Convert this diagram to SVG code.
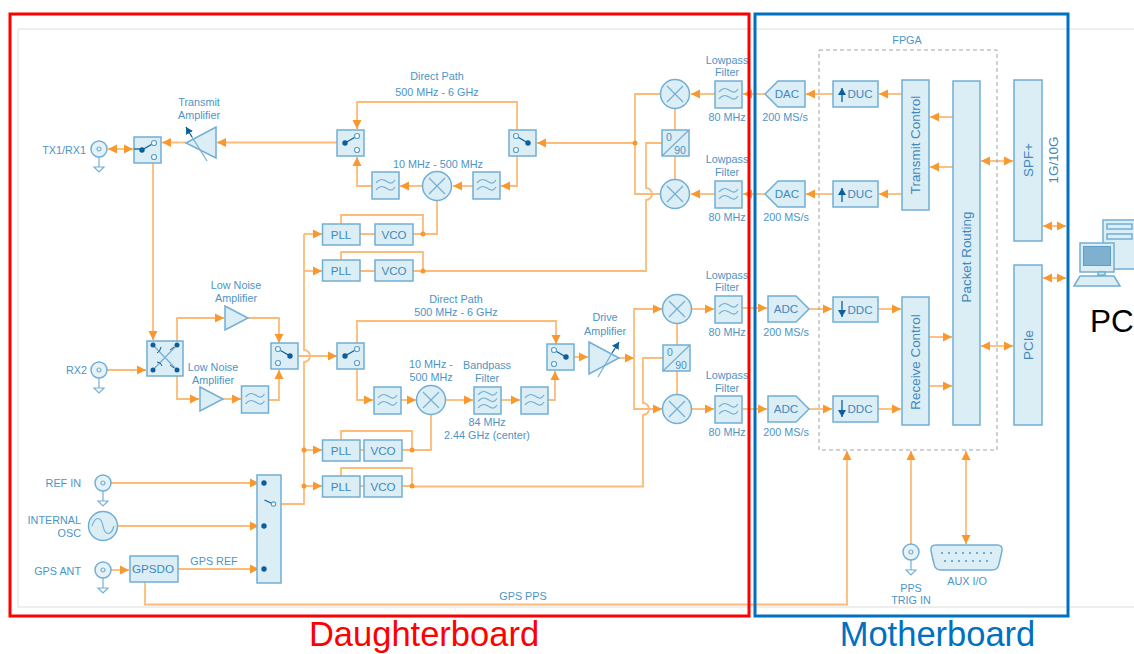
<svg xmlns="http://www.w3.org/2000/svg" width="1134" height="654" viewBox="0 0 1134 654">
<style>
text{font-family:"Liberation Sans",Arial,sans-serif}
.t{font-size:10.8px;fill:#4c94c6;text-anchor:middle}
.r{font-size:10.8px;fill:#4c94c6;text-anchor:end}
.b{font-size:11.6px;fill:#4088bd;text-anchor:middle}
.v{font-size:13.4px;fill:#4088bd;text-anchor:middle}
.box{fill:#dbedf5;stroke:#72afd4;stroke-width:1.5}
.ln{fill:none;stroke:#74afd3;stroke-width:1.2}
.c{fill:none;stroke:#fcbb77;stroke-width:1.8}
.a{marker-end:url(#ah)}
.d{marker-end:url(#ah);marker-start:url(#as)}
.dot{fill:#f9982e}
.dk{fill:#0b5f9f}
.op{fill:#fff;stroke:#5b9fca;stroke-width:1.2}
.bl{fill:none;stroke:#0b5f9f;stroke-width:1.3}
</style>
<defs>
<marker id="ah" markerUnits="userSpaceOnUse" markerWidth="10" markerHeight="10" refX="9" refY="5" orient="auto"><path d="M0,.5L9,5L0,9.5Z" fill="#f9982e"/></marker>
<marker id="as" markerUnits="userSpaceOnUse" markerWidth="10" markerHeight="10" refX="9" refY="5" orient="auto-start-reverse"><path d="M0,.5L9,5L0,9.5Z" fill="#f9982e"/></marker>
<marker id="bh" markerUnits="userSpaceOnUse" markerWidth="8" markerHeight="8" refX="7" refY="4" orient="auto"><path d="M0,0L7,4L0,8Z" fill="#0b5f9f"/></marker>
<g id="flt"><rect class="box" width="27" height="27"/><path class="ln" d="M4,11C8,6 11,7 14,9S20,13 23,8M4,18C8,13 11,14 14,16S20,20 23,15"/></g>
<g id="bpf"><rect class="box" width="27" height="27"/><path class="ln" d="M4,8C8,3 11,4 14,6S20,10 23,5M4,14.500C8,9.500 11,10.500 14,12.500S20,16.500 23,11.500M4,21C8,16 11,17 14,19S20,23 23,18"/></g>
<g id="mix"><circle class="box" r="14.500"/><path class="ln" d="M-8,-8L8,8M-8,8L8,-8"/></g>
<g id="coax"><path class="ln" d="M0,8V18M-5,18H5L0,23Z"/><circle class="box" style="fill:#e6f2f8" r="8"/><circle class="ln" r="2"/></g>
<g id="sw"><rect class="box" width="27" height="26"/><path class="bl" d="M8,13L20,6"/><circle class="dk" cx="8" cy="13" r="2.700"/><circle class="op" cx="20" cy="6" r="2.500"/><circle class="op" cx="20" cy="20" r="2.500"/></g>
<g id="q"><rect class="box" width="27" height="26"/><path class="ln" d="M0,26L27,0"/><text class="t" x="7" y="11" style="font-size:10.5px">0</text><text class="t" x="18" y="24" style="font-size:10.5px">90</text></g>
</defs>

<g id="background-lines" fill="none" stroke="#dedede" stroke-width="1"><path d="M18,29H1134M18,29V607H1134"/></g>

<g id="connectors">
<path class="c d" d="M108,149H133"/>
<path class="c a" d="M153,163V340"/>
<path class="c a" d="M186,142.500H162"/>
<path class="c a" d="M337,142.500H217"/>
<path class="c a" d="M517,130V102H357V129"/>
<path class="c a" d="M635,143H537"/>
<path class="c a" d="M517,156V186H501"/>
<path class="c a" d="M473,186H453"/>
<path class="c a" d="M422,186H400"/>
<path class="c a" d="M372,186H357V157"/>
<path class="c" d="M437,201V234H423M360,234H375M413,234H423M341,224V215H423V234"/>
<path class="c" d="M360,271H375M413,271H423M341,260V252H423V271"/>
<path class="c" d="M423,271H646V200A6,6 0 0 0 646,188V143H662"/>
<path class="c" d="M661,94H635V194H661"/>
<path class="c" d="M675,109V130M675,156V180M677,324V345M677,371V395"/>
<path class="c a" d="M715,94H691"/>
<path class="c a" d="M715,194H691"/>
<path class="c a" d="M765,94H743"/>
<path class="c a" d="M765,194H743"/>
<path class="c a" d="M833,94H806"/>
<path class="c a" d="M833,194H806"/>
<path class="c a" d="M902,94H879"/>
<path class="c a" d="M902,194H879"/>
<path class="c a" d="M953,117H930"/>
<path class="c a" d="M953,167H930"/>
<path class="c d" d="M981,161H1013"/>
<path class="c d" d="M981,346H1013"/>
<path class="c d" d="M1043,226H1066"/>
<path class="c d" d="M1043,278H1066"/>
<path class="c a" d="M692,309H714"/>
<path class="c a" d="M692,409H714"/>
<path class="c a" d="M742,308H767"/>
<path class="c a" d="M742,409H767"/>
<path class="c a" d="M809,309H832"/>
<path class="c a" d="M809,409H832"/>
<path class="c a" d="M878,309H901"/>
<path class="c a" d="M878,409H901"/>
<path class="c a" d="M929,337H952"/>
<path class="c a" d="M929,386H952"/>
<path class="c a" d="M107,370H146"/>
<path class="c a" d="M177,341V318H224"/>
<path class="c a" d="M177,376V399H199"/>
<path class="c a" d="M248,318H279V343"/>
<path class="c a" d="M223,399H241"/>
<path class="c a" d="M269,400H279V370"/>
<path class="c a" d="M298,356H337"/>
<path class="c a" d="M357,343V321H556V344"/>
<path class="c a" d="M357,369V400H373"/>
<path class="c a" d="M401,400H416"/>
<path class="c a" d="M446,400H473"/>
<path class="c a" d="M501,400H520"/>
<path class="c a" d="M548,400H555V371"/>
<path class="c a" d="M574,357H588"/>
<path class="c a" d="M619,358H634"/>
<path class="c a" d="M634,358V309H662"/>
<path class="c a" d="M634,358V409H662"/>
<path class="c" d="M431,415V450H412M360,450H364M402,450H412M341,440V431H412V450"/>
<path class="c" d="M360,486H364M402,486H412M341,476V468H412V486"/>
<path class="c" d="M412,486.500H643V415A6,6 0 0 0 643,403V358H663"/>
<path class="c" d="M276,504H304V362A6,6 0 0 0 304,350V234"/>
<path class="c a" d="M304,234H322"/>
<path class="c a" d="M304,271H322"/>
<path class="c a" d="M304,450H322"/>
<path class="c a" d="M304,486H322"/>
<path class="c a" d="M111,483H259"/>
<path class="c a" d="M118,526H259"/>
<path class="c a" d="M111,570H129"/>
<path class="c a" d="M178,569H259"/>
<path class="c a" d="M145,582V604.500H847V451"/>
<path class="c a" d="M911,544V451"/>
<path class="c d" d="M966,451V544"/>
<g class="dot"><circle cx="635" cy="143" r="2.500"/><circle cx="423" cy="234" r="2.500"/><circle cx="423" cy="271" r="2.500"/><circle cx="412" cy="450" r="2.500"/><circle cx="412" cy="486" r="2.500"/><circle cx="304" cy="450" r="2.500"/><circle cx="304" cy="486" r="2.500"/></g>
</g>

<g id="tx1rx1"><use href="#coax" x="99" y="149"/><text class="r" x="86" y="154">TX1/RX1</text></g>
<g id="rx2"><use href="#coax" x="99" y="370"/><text class="r" x="87" y="374">RX2</text></g>
<g id="tx-switch"><use href="#sw" x="134" y="137"/><path class="bl" d="M134,149H141"/></g>
<g id="tx-amp"><path class="box" d="M186,143L216,127V158Z"/><path class="ln" d="M207,161L192,137"/><path class="bl" d="M192,137L186,127" marker-end="url(#bh)"/><text class="t" x="199" y="106">Transmit</text><text class="t" x="199" y="119">Amplifier</text></g>
<g id="tx-sw-out"><use href="#sw" x="337" y="130"/></g>
<g id="tx-sw-in"><use href="#sw" transform="translate(536,130) scale(-1,1)"/></g>
<g id="tx-path-labels"><text class="t" x="437" y="80">Direct Path</text><text class="t" x="437" y="96">500 MHz - 6 GHz</text><text class="t" x="438" y="168">10 MHz - 500 MHz</text></g>
<g id="tx-if-filter-a"><use href="#flt" x="473" y="172"/></g>
<g id="tx-if-mixer"><use href="#mix" x="437" y="186"/></g>
<g id="tx-if-filter-b"><use href="#flt" x="372" y="172"/></g>
<g id="pll1"><rect class="box" x="322.500" y="224" width="37.500" height="21"/><text class="b" x="341" y="238.500">PLL</text></g>
<g id="vco1"><rect class="box" x="375" y="224" width="38" height="21"/><text class="b" x="394" y="238.500">VCO</text></g>
<g id="pll2"><rect class="box" x="322.500" y="260" width="37.500" height="21"/><text class="b" x="341" y="275">PLL</text></g>
<g id="vco2"><rect class="box" x="375" y="260" width="38" height="21"/><text class="b" x="394" y="275">VCO</text></g>
<g id="tx-mixer-i"><use href="#mix" x="675" y="94"/></g>
<g id="tx-mixer-q"><use href="#mix" x="675" y="194"/></g>
<g id="tx-q"><use href="#q" x="662" y="130"/></g>
<g id="tx-lpf-i"><use href="#flt" x="715" y="81"/><text class="t" x="727" y="64">Lowpass</text><text class="t" x="727" y="76">Filter</text><text class="t" x="727" y="121">80 MHz</text></g>
<g id="tx-lpf-q"><use href="#flt" x="715" y="181"/><text class="t" x="727" y="163">Lowpass</text><text class="t" x="727" y="176">Filter</text><text class="t" x="727" y="221">80 MHz</text></g>
<g id="dac1"><path class="box" d="M765,94L778,81H805V107H778Z"/><text class="b" x="787" y="98">DAC</text><text class="t" x="785" y="121">200 MS/s</text></g>
<g id="dac2"><path class="box" d="M765,194L778,181H805V207H778Z"/><text class="b" x="787" y="198">DAC</text><text class="t" x="786" y="221">200 MS/s</text></g>

<g id="fpga"><rect x="819" y="50" width="178" height="400" fill="none" stroke="#a3a3a3" stroke-width="1" stroke-dasharray="4 3"/><text class="t" x="907" y="44">FPGA</text></g>
<g id="duc1"><rect class="box" x="833" y="81" width="45" height="26"/><path class="bl" d="M842,102V88" marker-end="url(#bh)"/><text class="b" x="860" y="98">DUC</text></g>
<g id="duc2"><rect class="box" x="833" y="181" width="45" height="26"/><path class="bl" d="M842,202V188" marker-end="url(#bh)"/><text class="b" x="860" y="198">DUC</text></g>
<g id="ddc1"><rect class="box" x="833" y="297" width="45" height="25"/><path class="bl" d="M842,301V317" marker-end="url(#bh)"/><text class="b" x="860" y="314">DDC</text></g>
<g id="ddc2"><rect class="box" x="833" y="396" width="45" height="26"/><path class="bl" d="M842,400V417" marker-end="url(#bh)"/><text class="b" x="860" y="413">DDC</text></g>
<g id="transmit-control"><rect class="box" x="902" y="80" width="27" height="130"/><text class="v" transform="translate(920,145) rotate(-90)">Transmit Control</text></g>
<g id="receive-control"><rect class="box" x="902" y="297" width="27" height="128"/><text class="v" transform="translate(920,362) rotate(-90)">Receive Control</text></g>
<g id="packet-routing"><rect class="box" x="953" y="81" width="27" height="344"/><text class="v" transform="translate(971,257) rotate(-90)">Packet Routing</text></g>
<g id="spf"><rect class="box" x="1014" y="80" width="28" height="161"/><text class="v" transform="translate(1033,160) rotate(-90)">SPF+</text><text class="v" transform="translate(1058,160) rotate(-90)">1G/10G</text></g>
<g id="pcie"><rect class="box" x="1014" y="265" width="28" height="160"/><text class="v" transform="translate(1033,345) rotate(-90)">PCIe</text></g>

<g id="pc"><rect class="box" x="1103" y="220" width="40" height="49"/><rect class="box" x="1107" y="224" width="25" height="5"/><rect class="box" x="1107" y="234" width="25" height="5"/><rect class="box" x="1080" y="243" width="34" height="29"/><rect x="1083.500" y="246.500" width="27" height="19" fill="#7fb0cd" stroke="#5d9cc6"/><path class="box" d="M1098,272H1105V275H1098ZM1074,286L1080,276H1114L1120,286Z"/><text x="1090" y="332" style="font-size:31.500px;fill:#000">PC</text></g>

<g id="crossbar"><rect class="box" x="147" y="341" width="36" height="35"/><path class="ln" d="M153,370L177,345M153,345L177,370"/><path class="bl" style="stroke-width:1" d="M157,353Q160,352 161,347M157,362Q161,362 162,366M170,350L174,347M170,365L174,368"/><g class="dk"><circle cx="153" cy="345" r="2.500"/><circle cx="177" cy="345" r="2.500"/><circle cx="153" cy="370" r="2.500"/><circle cx="177" cy="370" r="2.500"/></g></g>
<g id="lna1"><path class="box" d="M225,306L248,318L225,330Z"/><text class="t" x="236" y="289">Low Noise</text><text class="t" x="236" y="302">Amplifier</text></g>
<g id="lna2"><path class="box" d="M200,387L223,399L200,411Z"/><text class="t" x="213" y="371">Low Noise</text><text class="t" x="213" y="384">Amplifier</text></g>
<g id="rx-filter1"><use href="#flt" x="241.500" y="386"/></g>
<g id="rx-sw1"><use href="#sw" transform="translate(298,343) scale(-1,1)"/></g>
<g id="rx-sw2"><use href="#sw" x="337" y="343"/></g>
<g id="rx-sw3"><use href="#sw" transform="translate(574,344) scale(-1,1)"/></g>
<g id="rx-filter2"><use href="#flt" x="374" y="387"/></g>
<g id="rx-if-mixer"><use href="#mix" x="431" y="400"/><text class="t" x="431" y="368">10 MHz -</text><text class="t" x="431" y="381">500 MHz</text></g>
<g id="rx-bpf"><use href="#bpf" x="474" y="387"/><text class="t" x="487" y="369">Bandpass</text><text class="t" x="487" y="382">Filter</text><text class="t" x="487" y="426">84 MHz</text><text class="t" x="487" y="439">2.44 GHz (center)</text></g>
<g id="rx-filter3"><use href="#flt" x="521" y="387"/></g>
<g id="rx-direct"><text class="t" x="456" y="303">Direct Path</text><text class="t" x="456" y="316">500 MHz - 6 GHz</text></g>
<g id="drive-amp"><path class="box" d="M589,342L619,358L589,374Z"/><path class="ln" d="M598,377L612,353"/><path class="bl" d="M612,353L619,342" marker-end="url(#bh)"/><text class="t" x="605" y="321">Drive</text><text class="t" x="605" y="335">Amplifier</text></g>
<g id="rx-mixer-i"><use href="#mix" x="677" y="309"/></g>
<g id="rx-mixer-q"><use href="#mix" x="677" y="409"/></g>
<g id="rx-q"><use href="#q" x="663" y="345"/></g>
<g id="rx-lpf-i"><use href="#flt" x="715" y="296"/><text class="t" x="727" y="279">Lowpass</text><text class="t" x="727" y="291">Filter</text><text class="t" x="727" y="336">80 MHz</text></g>
<g id="rx-lpf-q"><use href="#flt" x="715" y="396"/><text class="t" x="727" y="379">Lowpass</text><text class="t" x="727" y="392">Filter</text><text class="t" x="727" y="436">80 MHz</text></g>
<g id="adc1"><path class="box" d="M768,296H796L809,309L796,322H768Z"/><text class="b" x="786" y="313">ADC</text><text class="t" x="786" y="336">200 MS/s</text></g>
<g id="adc2"><path class="box" d="M768,396H796L809,409L796,422H768Z"/><text class="b" x="786" y="413">ADC</text><text class="t" x="786" y="436">200 MS/s</text></g>
<g id="pll3"><rect class="box" x="322.500" y="440" width="37.500" height="21"/><text class="b" x="341" y="454.500">PLL</text></g>
<g id="vco3"><rect class="box" x="364" y="440" width="38" height="21"/><text class="b" x="383" y="454.500">VCO</text></g>
<g id="pll4"><rect class="box" x="322.500" y="476" width="37.500" height="21"/><text class="b" x="341" y="490.500">PLL</text></g>
<g id="vco4"><rect class="box" x="364" y="476" width="38" height="21"/><text class="b" x="383" y="490.500">VCO</text></g>

<g id="ref-in"><use href="#coax" x="103" y="483"/><text class="r" x="81" y="487">REF IN</text></g>
<g id="internal-osc"><circle class="box" cx="103" cy="526" r="14.500"/><path class="ln" d="M92,526C95,516 101,516 103,526S111,536 114,526"/><text class="r" x="81" y="524">INTERNAL</text><text class="r" x="81" y="537">OSC</text></g>
<g id="gps-ant"><use href="#coax" x="103" y="570"/><text class="r" x="81" y="575">GPS ANT</text></g>
<g id="gpsdo"><rect class="box" x="130" y="556" width="48" height="26"/><text class="b" x="153" y="573">GPSDO</text></g>
<g id="ref-switch"><rect class="box" x="257" y="475" width="24" height="108"/><path class="bl" d="M264.500,500L273,504"/><g class="dk"><circle cx="264" cy="483" r="2.700"/><circle cx="264" cy="526" r="2.700"/><circle cx="264" cy="569" r="2.700"/></g><circle class="op" cx="273.500" cy="504" r="2.200"/></g>
<g id="signal-labels"><text class="t" x="214" y="565">GPS REF</text><text class="t" x="523" y="600">GPS PPS</text></g>
<g id="pps"><use href="#coax" x="911" y="552"/><text class="t" x="911" y="592">PPS</text><text class="t" x="911" y="604">TRIG IN</text></g>
<g id="aux"><path class="box" d="M936,545H997Q1003,545 1002,551L999,564Q998,570 992,570H941Q935,570 934,564L931,551Q930,545 936,545Z"/><g fill="#4c94c6"><circle cx="942" cy="553" r="1"/><circle cx="949" cy="553" r="1"/><circle cx="956" cy="553" r="1"/><circle cx="963" cy="553" r="1"/><circle cx="970" cy="553" r="1"/><circle cx="977" cy="553" r="1"/><circle cx="984" cy="553" r="1"/><circle cx="991" cy="553" r="1"/><circle cx="945" cy="561" r="1"/><circle cx="952" cy="561" r="1"/><circle cx="959" cy="561" r="1"/><circle cx="966" cy="561" r="1"/><circle cx="973" cy="561" r="1"/><circle cx="980" cy="561" r="1"/><circle cx="987" cy="561" r="1"/></g><text class="t" x="967" y="585">AUX I/O</text></g>

<g id="daughterboard"><rect x="10" y="14" width="739" height="602" fill="none" stroke="#ff0000" stroke-width="3"/><text x="424" y="646" text-anchor="middle" style="font-size:34.500px;fill:#ff0000">Daughterboard</text></g>
<g id="motherboard"><rect x="755" y="14" width="313" height="602" fill="none" stroke="#0070c0" stroke-width="3"/><text x="937.500" y="646" text-anchor="middle" style="font-size:34.500px;fill:#0070c0">Motherboard</text></g>
</svg>
